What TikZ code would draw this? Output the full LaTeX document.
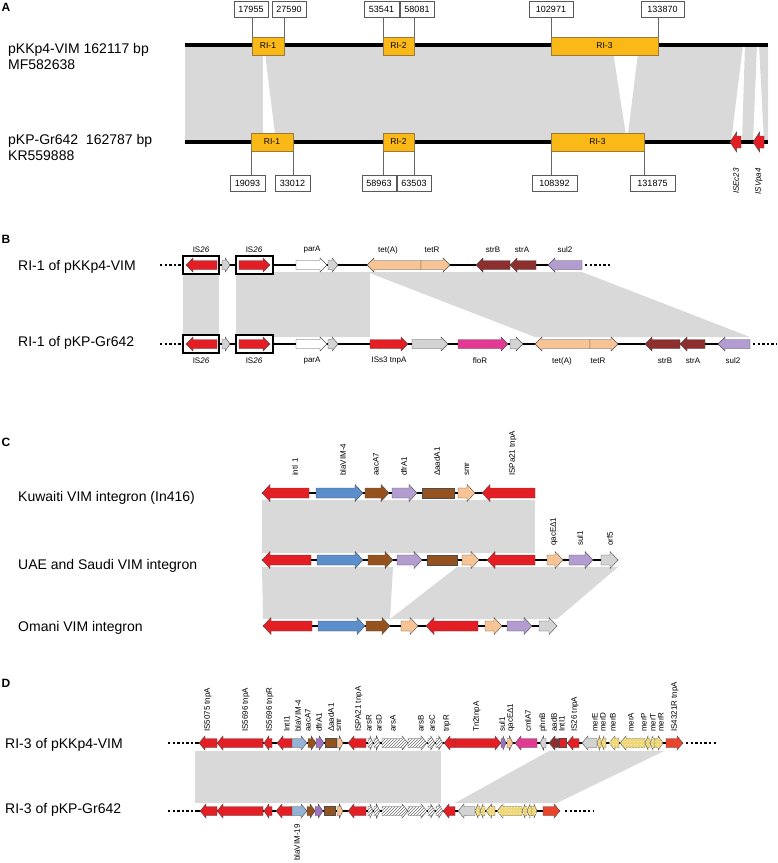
\documentclass[tikz,border=0pt]{standalone}
\usepackage{fontspec}
\setmainfont{Liberation Sans}
\usetikzlibrary{patterns}
\definecolor{myred}{HTML}{E31E24}
\definecolor{riy}{HTML}{FBB917}
\definecolor{ribd}{HTML}{9A7A3A}
\definecolor{simgray}{HTML}{D9D9D9}
\definecolor{vblue}{HTML}{5B8ECB}
\definecolor{lblue}{HTML}{95B3D7}
\definecolor{brn}{HTML}{95511E}
\definecolor{lav}{HTML}{B39DD0}
\definecolor{purp}{HTML}{9E72BE}
\definecolor{peach}{HTML}{F8C496}
\definecolor{dbrn}{HTML}{8E2F2F}
\definecolor{mag}{HTML}{E23A92}
\definecolor{lgr}{HTML}{D3D3D3}
\definecolor{ych}{HTML}{F0D46A}
\definecolor{ored}{HTML}{E8452C}
\newcommand{\genr}[4]{%
  \pgfmathsetmacro\hx{max(#1+0.4*(#2-#1),#2-\hl)}%
  \edef\gopt{[gene,#4]}%
  \expandafter\filldraw\gopt (#1,#3-\bh) -- (\hx,#3-\bh) -- (\hx,#3-\hh) -- (#2,#3) -- (\hx,#3+\hh) -- (\hx,#3+\bh) -- (#1,#3+\bh) -- cycle;}
\newcommand{\genl}[4]{%
  \pgfmathsetmacro\hx{min(#2-0.4*(#2-#1),#1+\hl)}%
  \edef\gopt{[gene,#4]}%
  \expandafter\filldraw\gopt (#2,#3-\bh) -- (\hx,#3-\bh) -- (\hx,#3-\hh) -- (#1,#3) -- (\hx,#3+\hh) -- (\hx,#3+\bh) -- (#2,#3+\bh) -- cycle;}
\newcommand{\genb}[4]{%
  \edef\gopt{[gene,#4]}%
  \expandafter\filldraw\gopt (#1,#3-\bh) rectangle (#2,#3+\bh);}

\begin{document}
\begin{tikzpicture}[x=1pt,y=-1pt,
  gene/.style={draw=black!70,line width=0.4pt},
  gred/.style={fill=myred}, gblue/.style={fill=vblue}, glblue/.style={fill=lblue},
  gbrown/.style={fill=brn}, glav/.style={fill=lav}, gpurple/.style={fill=purp},
  gpeach/.style={fill=peach}, gdbrown/.style={fill=dbrn}, gmag/.style={fill=mag},
  glgray/.style={fill=lgr}, gwhite/.style={fill=white}, gored/.style={fill=ored},
  ghatch/.style={fill=white,postaction={pattern=north east lines,pattern color=black!55}},
  gych/.style={fill=ych,postaction={pattern=crosshatch dots,pattern color=white!85!ych}},
  sim/.style={fill=simgray},
  bb/.style={line width=4pt},
  track/.style={line width=1.4pt},
  dotln/.style={line width=2.5pt,dash pattern=on 2.4pt off 2.2pt},
  ri/.style={draw=ribd,fill=riy,minimum height=18pt,inner sep=0pt,font=\fontsize{8.5}{10}\selectfont},
  nbox/.style={draw=black!65,fill=white,minimum height=16pt,inner sep=0pt,font=\fontsize{9}{10}\selectfont},
  nline/.style={draw=black!60,line width=0.6pt},
  rowlab/.style={anchor=west,inner sep=0pt,font=\fontsize{14}{16}\selectfont},
  plabel/.style={inner sep=0pt,font=\fontsize{12}{14}\selectfont\bfseries},
  lab/.style={inner sep=1pt,font=\fontsize{8}{9}\selectfont},
  vlab/.style={lab,rotate=90,anchor=west},
  isframe/.style={draw=black,line width=2.5pt,fill=white}]
\useasboundingbox (0,0) rectangle (778,863);

\node[plabel] (pa) at (6,7) {A};
\fill[sim] (185,45) -- (263,45) -- (263,142) -- (185,142) -- cycle;
\fill[sim] (264,45) -- (612,45) -- (627,142) -- (276,142) -- cycle;
\fill[sim] (639,45) -- (743,45) -- (731,142) -- (627,142) -- cycle;
\fill[sim] (745,45) -- (757,45) -- (753,142) -- (742,142) -- cycle;
\fill[sim] (759,45) -- (768,45) -- (768,142) -- (764,142) -- cycle;
\draw[bb] (185,45) -- (768,45);
\draw[bb] (185,142) -- (768,142);
\node[rowlab,align=left] (la1) at (8,56) {pKKp4-VIM 162117 bp\\MF582638};
\node[rowlab,align=left] (la2) at (8,147) {pKP-Gr642~~162787 bp\\KR559888};
\node[ri,minimum width=32pt] (rt1) at (268,46) {RI-1};
\node[ri,minimum width=31pt] (rt2) at (398.5,46) {RI-2};
\node[ri,minimum width=107pt] (rt3) at (604.5,46) {RI-3};
\node[ri,minimum width=42pt] (rb1) at (272,142) {RI-1};
\node[ri,minimum width=31pt] (rb2) at (398.5,142) {RI-2};
\node[ri,minimum width=93pt] (rb3) at (597.5,142) {RI-3};
\node[nbox,minimum width=34pt] (nt1) at (251,9) {17955};
\node[nbox,minimum width=34pt] (nt2) at (289,9) {27590};
\node[nbox,minimum width=35pt] (nt3) at (381.5,9) {53541};
\node[nbox,minimum width=34pt] (nt4) at (417,9) {58081};
\node[nbox,minimum width=44pt] (nt5) at (551,9) {102971};
\node[nbox,minimum width=43pt] (nt6) at (662.5,9) {133870};
\node[nbox,minimum width=35pt] (nb1) at (247.5,183) {19093};
\node[nbox,minimum width=35pt] (nb2) at (292.5,183) {33012};
\node[nbox,minimum width=34pt] (nb3) at (379,183) {58963};
\node[nbox,minimum width=34pt] (nb4) at (414,183) {63503};
\node[nbox,minimum width=45pt] (nb5) at (554.5,183) {108392};
\node[nbox,minimum width=45pt] (nb6) at (652.5,183) {131875};
\draw[nline] (rt1.north west) -- (rt1.north west |- nt1.south);
\draw[nline] (rt1.north east) -- (rt1.north east |- nt2.south);
\draw[nline] (rt2.north west) -- (rt2.north west |- nt3.south);
\draw[nline] (rt2.north east) -- (rt2.north east |- nt4.south);
\draw[nline] (rt3.north west) -- (rt3.north west |- nt5.south);
\draw[nline] (rt3.north east) -- (rt3.north east |- nt6.south);
\draw[nline] (rb1.south west) -- (rb1.south west |- nb1.north);
\draw[nline] (rb1.south east) -- (rb1.south east |- nb2.north);
\draw[nline] (rb2.south west) -- (rb2.south west |- nb3.north);
\draw[nline] (rb2.south east) -- (rb2.south east |- nb4.north);
\draw[nline] (rb3.south west) -- (rb3.south west |- nb5.north);
\draw[nline] (rb3.south east) -- (rb3.south east |- nb6.north);
\def\bh{6}\def\hh{10}\def\hl{7}
\genl{730}{741}{142}{gred}
\genl{753}{764}{142}{gred}
\node[vlab,anchor=east,font=\fontsize{8}{9}\selectfont\itshape] (ia1) at (736,167) {ISEc23};
\node[vlab,anchor=east,font=\fontsize{8}{9}\selectfont\itshape] (ia2) at (759,167) {ISVpa4};

\node[plabel] (pb) at (6,239) {B};
\node[rowlab] (lb1) at (18,267) {RI-1 of pKKp4-VIM};
\node[rowlab] (lb2) at (18,343) {RI-1 of pKP-Gr642};
\fill[sim] (183,272) rectangle (219,337);
\fill[sim] (236,272) rectangle (370,337);
\fill[sim] (367,272) -- (582,272) -- (750,337) -- (535,337) -- cycle;
\draw[dotln] (160,265) -- (182,265);
\draw[track] (182,265) -- (582,265);
\draw[dotln] (585,265) -- (612,265);
\draw[dotln] (160,344) -- (182,344);
\draw[track] (182,344) -- (750,344);
\draw[dotln] (753,344) -- (777,344);
\draw[isframe] (183,256) rectangle (219,274);
\draw[isframe] (236,256) rectangle (273,274);
\draw[isframe] (183,335) rectangle (219,353);
\draw[isframe] (236,335) rectangle (273,353);
\def\bh{4.5}\def\hh{7}\def\hl{7}
\foreach \m/\a/\b/\s in {l/186/217/gred,r/222/230/glgray,r/239/270/gred,r/296/327/gwhite,r/328/338/glgray,
  l/367/421/gpeach,r/421/450/gpeach,l/476/510/gdbrown,l/510/536/gdbrown,l/548/582/glav}
  {\csname gen\m\endcsname{\a}{\b}{265}{\s}}
\foreach \m/\a/\b/\s in {l/186/217/gred,r/222/230/glgray,r/239/270/gred,r/296/327/gwhite,r/328/338/glgray,
  r/370/408/gred,r/412/448/glgray,r/458/508/gmag,r/510/523/glgray,l/535/590/gpeach,r/590/618/gpeach,
  l/645/680/gdbrown,l/680/705/gdbrown,l/718/750/glav}
  {\csname gen\m\endcsname{\a}{\b}{344}{\s}}
\foreach \x/\t [count=\i] in {201/IS\textit{26},254/IS\textit{26},312/parA,388/tet(A),432/tetR,493/strB,522/strA,565/sul2}
  \node[lab] (bt\i) at (\x,250) {\t};
\foreach \x/\t [count=\i] in {201/IS\textit{26},254/IS\textit{26},312/parA,389/ISs3 tnpA,480/floR,562/tet(A),598/tetR,665/strB,693/strA,733/sul2}
  \node[lab] (bb\i) at (\x,361) {\t};

\node[plabel] (pc) at (6,442) {C};
\node[rowlab] (lc1) at (18,498) {Kuwaiti VIM integron (In416)};
\node[rowlab] (lc2) at (18,566) {UAE and Saudi VIM integron};
\node[rowlab] (lc3) at (18,628) {Omani VIM integron};
\fill[sim] (262,500) rectangle (535,553);
\fill[sim] (262,567) -- (393,567) -- (390,619) -- (263,619) -- cycle;
\fill[sim] (457,567) -- (618,567) -- (557,619) -- (390,619) -- cycle;
\draw[track] (262,493) -- (535,493);
\draw[track] (262,560) -- (618,560);
\draw[track] (263,626) -- (557,626);
\def\bh{5}\def\hh{8.5}\def\hl{8}
\foreach \m/\a/\b/\s in {l/262/309/gred,r/316/363/gblue,r/365/389/gbrown,r/392/417/glav,b/422/454/gbrown,
  r/458/475/gpeach,l/482/535/gred}
  {\csname gen\m\endcsname{\a}{\b}{493}{\s}}
\foreach \m/\a/\b/\s in {l/262/311/gred,r/317/363/gblue,r/368/393/gbrown,r/397/422/glav,b/427/457/gbrown,
  r/462/479/gpeach,l/487/535/gred,r/547/563/gpeach,r/569/593/glav,r/601/618/glgray}
  {\csname gen\m\endcsname{\a}{\b}{560}{\s}}
\foreach \m/\a/\b/\s in {l/263/312/gred,r/318/365/gblue,r/366/390/gbrown,r/401/418/gpeach,l/426/478/gred,
  r/485/502/gpeach,r/507/532/glav,r/539/557/glgray}
  {\csname gen\m\endcsname{\a}{\b}{626}{\s}}
\foreach \x/\t [count=\i] in {295/intI 1,343/blaVIM-4,376/aacA7,404/dfrA1,437/ΔaadA1,467/smr,513/ISPa21 tnpA}
  \node[vlab] (ct\i) at (\x,477) {\t};
\foreach \x/\t [count=\i] in {554/qacEΔ1,580/sul1,610/orf5}
  \node[vlab] (cm\i) at (\x,547) {\t};

\node[plabel] (pd) at (6,683) {D};
\node[rowlab] (ld1) at (5,745) {RI-3 of pKKp4-VIM};
\node[rowlab] (ld2) at (5,810) {RI-3 of pKP-Gr642};
\fill[sim] (195,751) rectangle (441,803);
\fill[sim] (549,751) -- (664,751) -- (557,803) -- (455,803) -- cycle;
\draw[dotln] (168,743) -- (194,743);
\draw[track] (195,743) -- (683,743);
\draw[dotln] (686,743) -- (717,743);
\draw[dotln] (168,811) -- (194,811);
\draw[track] (195,811) -- (560,811);
\draw[dotln] (565,811) -- (593,811);
\def\bh{4.5}\def\hh{7}\def\hl{6}
\foreach \m/\a/\b/\s in {l/199/217/gred,l/217/263/gred,l/264/272/gred,l/277/292/gred,r/292/307/glblue,
  r/308/316/gbrown,r/316/324/gpurple,b/325/336/gbrown,r/337/343/gpeach,l/348/366/gred,
  r/368/373/ghatch,r/374/380/ghatch,r/382/408/ghatch,r/408/427/ghatch,r/428/435/ghatch,r/436/443/ghatch,
  l/444/455/gred,r/455/501/gred,r/501/506/gpurple,r/507/513/gpeach,l/515/537/gmag,l/540/546/glgray,
  l/549/559/gdbrown,b/559/566/gred,l/567/579/gred,l/582/597/glgray,l/597/601/gych,l/601/606/gych,
  l/609/619/gych,l/620/645/gych,l/645/650/gych,l/650/655/gych,r/655/663/gych,r/666/683/gored}
  {\csname gen\m\endcsname{\a}{\b}{743}{\s}}
\foreach \m/\a/\b/\s in {l/200/217/gred,l/217/263/gred,l/264/272/gred,l/276/292/gred,r/292/307/glblue,
  r/307/315/gbrown,r/315/323/gpurple,b/324/335/gbrown,r/337/343/gpeach,l/348/366/gred,
  r/368/373/ghatch,r/374/380/ghatch,r/382/408/ghatch,r/408/427/ghatch,r/428/435/ghatch,r/436/443/ghatch,
  l/443/455/gred,l/458/475/glgray,l/475/480/gych,l/480/485/gych,l/486/495/gych,l/497/522/gych,
  l/522/527/gych,l/527/532/gych,r/532/537/gych,r/543/560/gored}
  {\csname gen\m\endcsname{\a}{\b}{811}{\s}}
\foreach \x/\t [count=\i] in {208/IS5075 tnpA,246/IS5696 tnpA,270/IS5696 tnpR,287/IntI1,298/blaVIM-4,
  308/aacA7,319/dfrA1,331/ΔaadA1,339/smr,359/ISPA21 tnpA,369/arsR,379/arsD,393/arsA,421/arsB,432/arsC,
  447/tnpR,477/Tn2tnpA,502/sul1,511/qacEΔ1,528/cmlA7,543/phnB,554/aadB,562/IntI1,575/IS26 tnpA,
  595/merE,603/merD,613/merB,631/merA,644/merP,653/merT,661/merR,675/IS4321R tnpA}
  \node[vlab] (dt\i) at (\x,733) {\t};
\node[vlab,anchor=east] (db1) at (297,823) {blaVIM-19};
\end{tikzpicture}
\end{document}
